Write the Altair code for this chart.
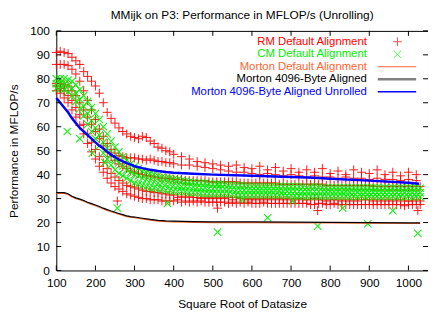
import altair as alt
import pandas as pd

TITLE = "MMijk on P3: Performance in MFLOP/s (Unrolling)"
X_TITLE = "Square Root of Datasize"
Y_TITLE = "Performance in MFLOP/s"
X_TICKS = [100, 200, 300, 400, 500, 600, 700, 800, 900, 1000]
Y_TICKS = [0, 10, 20, 30, 40, 50, 60, 70, 80, 90, 100]
LEGEND = ["RM Default Alignment", "CM Default Alignment", "Morton Default Alignment",
          "Morton 4096-Byte Aligned", "Morton 4096-Byte Aligned Unrolled"]

# sampled x positions for scatter bands
X_GRID = [100, 110, 120, 130, 140, 150, 160, 170, 180, 190, 200, 210, 220, 230, 240,
          250, 260, 270, 280, 290, 300, 310, 320, 330, 340, 350, 360, 370, 380, 390,
          400, 420, 440, 460, 480, 500, 520, 540, 560, 580, 600, 620, 640, 660, 680,
          700, 720, 740, 760, 780, 800, 820, 840, 860, 880, 900, 920, 940, 960, 980,
          1000, 1020]
X_GRID_B = [410, 430, 450, 470, 490, 510, 530, 550, 570, 590, 610, 630, 650, 670, 690,
            710, 730, 750, 770, 790, 810, 830, 850, 870, 890, 910, 930, 950, 970, 990,
            1010, 1030]

# RM Default Alignment (several bands of points)
RM_TOP = [91, 91.5, 91, 90.5, 89, 87.5, 86, 83, 81, 79, 77, 74, 70, 66, 63.5, 61.5, 59.5, 58, 57, 56,
          55.5, 55, 56, 55.5, 54, 53, 51.5, 51, 50, 49.5,
          48.5, 47.5, 46.5, 45.5, 45, 44.5, 44, 43.5, 44, 43, 42.5, 43.5, 42, 43, 41.5, 42.5, 41, 42, 41, 42.5,
          40.5, 41.5, 40, 42, 41, 40.5, 42, 40, 41, 39.5, 41, 40]
RM_2 = [86, 86, 86, 85.5, 84, 82, 79, 75, 71, 67, 63, 59, 56, 53, 50.5, 49, 48, 47.5, 47, 47,
        47, 46.5, 46.5, 46, 46.5, 46, 45.5, 45.5, 45, 45,
        44.5, 44, 44, 43.5, 43, 42.5, 42, 41.5, 41, 41, 40.5, 40, 40.5, 40, 39.5, 40, 39.5, 39, 39.5, 39,
        39, 38.5, 39, 38.5, 38.5, 38, 38.5, 38, 38, 37.5, 38, 37.5]
RM_3 = [78, 78, 77.5, 77, 75, 73, 70, 67, 64, 61, 58, 55, 52, 49.5, 47.5, 46, 44.5, 43.5, 42.5, 41.5,
        41, 40.5, 40, 39.5, 39.5, 39, 39, 38.5, 38.5, 38.5,
        38, 38, 37.5, 37.5, 37.5, 37, 37, 37, 37, 36.5, 36.5, 36.5, 36.5, 36.5, 36, 36, 36, 36, 36, 36,
        35.5, 35.5, 35.5, 35.5, 35.5, 35.5, 35, 35, 35, 35, 35, 35]
RM_4 = [77, 76, 75, 73, 71, 68, 65, 61, 57, 53.5, 50.5, 47.5, 45, 42.5, 40.5, 39, 37.5, 36.5, 35.5, 35,
        34.5, 34, 33.5, 33, 33, 32.5, 32.5, 32, 32, 31.5,
        31.5, 31, 31, 30.5, 30.5, 30.5, 30.5, 30.5, 30.5, 30, 30, 30, 30, 30, 30, 30, 30, 29.5, 30, 29.5,
        29.5, 29.5, 29.5, 29.5, 29.5, 29.5, 29.5, 29.5, 29.5, 29.5, 29, 29.5]
RM_5 = [75, 74, 72, 70, 67, 64, 60.5, 57, 53, 49.5, 46.5, 43.5, 41, 38.5, 36.5, 35, 34, 33, 32, 31.5,
        31, 30.5, 30, 30, 29.5, 29.5, 29.5, 29, 29, 29,
        29, 28.5, 28.5, 28.5, 28.5, 28.5, 28.5, 28, 28, 28, 28, 28, 28, 28, 28, 28, 28, 28, 27.5, 28,
        27.5, 27.5, 27.5, 27.5, 27.5, 27.5, 27.5, 27.5, 27.5, 27.5, 27.5, 27.5]
# extra RM points between the grid columns (x >= 410)
RM_3B = [38, 37.5, 37.5, 37.5, 37, 37, 37, 37, 36.5, 36.5, 36.5, 36.5, 36.5, 36, 36, 36,
         36, 36, 36, 35.5, 35.5, 35.5, 35.5, 35.5, 35.5, 35, 35, 35, 35, 35, 35, 35]
RM_4B = [30.5, 30.5, 30.5, 30, 30, 30, 30, 29.5, 30, 29.5, 29.5, 29.5, 29.5, 29.5, 29.5, 29.5,
         29.5, 29.5, 29.5, 29, 29.5, 29, 29, 29, 29.5, 29, 29, 29, 29, 29, 29, 29]
RM_5B = [29.5, 29, 29, 29, 28.5, 28.5, 28.5, 28.5, 28.5, 28.5, 28, 28.5, 28, 28, 28, 28,
         28, 27.5, 28, 27.5, 28, 27.5, 27.5, 27.5, 27.5, 27.5, 27.5, 27.5, 27.5, 27, 27.5, 27.5]
RM_OUT_X = [256, 512, 768, 1024]
RM_OUT_Y = [29, 26, 25, 25]

# CM Default Alignment
CM_1 = [80, 80, 80, 79.5, 79, 77.5, 75.5, 73, 70.5, 68, 65.5, 63, 60, 57, 54, 51.5, 49.5, 47.5, 46, 44.5,
        43.5, 42.5, 41.5, 41, 40.5, 40, 39.5, 39, 38.5, 38.5,
        38, 37.5, 37, 36.5, 36.5, 36, 36, 35.5, 35.5, 35.5, 35, 35, 35, 35, 35, 35, 35, 34.5, 35, 34.5,
        34.5, 34.5, 34.5, 34.5, 34.5, 34.5, 34.5, 34.5, 34.5, 34.5, 34.5, 34.5]
CM_2 = [78, 78, 77.5, 77, 76, 74, 71.5, 68.5, 65.5, 62.5, 59.5, 56.5, 53.5, 51, 48.5, 46.5, 45, 43.5, 42, 41,
        40, 39.5, 38.5, 38, 37.5, 37, 36.5, 36.5, 36, 36,
        35.5, 35, 35, 34.5, 34.5, 34, 34, 34, 33.5, 33.5, 33.5, 33.5, 33.5, 33.5, 33, 33, 33, 33, 33, 33,
        33, 33, 33, 32.5, 32.5, 32.5, 32.5, 32.5, 32.5, 32.5, 32.5, 32.5]
CM_3 = [76, 76, 75.5, 74.5, 73, 70.5, 67.5, 64.5, 61, 58, 55, 52, 49, 46.5, 44, 42, 40.5, 39.5, 38.5, 37.5,
        36.5, 36, 35.5, 35, 34.5, 34.5, 34, 34, 33.5, 33.5,
        33, 33, 32.5, 32.5, 32, 32, 32, 32, 31.5, 31.5, 31.5, 31.5, 31.5, 31.5, 31.5, 31.5, 31, 31, 31, 31,
        31, 31, 31, 31, 31, 31, 31, 31, 31, 31, 31, 31]
CM_1B = [37.8, 37.2, 36.8, 36.5, 36.2, 36, 35.8, 35.5, 35.5, 35.2, 35, 35, 35, 35, 35, 35,
         34.8, 34.8, 34.8, 34.5, 34.5, 34.5, 34.5, 34.5, 34.5, 34.5, 34.3, 34.3, 34.3, 34.3, 34.3, 34.3]
CM_2B = [35.3, 35, 34.8, 34.5, 34.2, 34, 34, 33.8, 33.5, 33.5, 33.5, 33.5, 33.3, 33.3, 33, 33,
         33, 33, 33, 32.8, 32.8, 32.8, 32.6, 32.6, 32.5, 32.5, 32.5, 32.5, 32.4, 32.4, 32.4, 32.4]
CM_3B = [33, 32.8, 32.5, 32.2, 32, 32, 32, 31.8, 31.5, 31.5, 31.5, 31.5, 31.5, 31.5, 31.3, 31.2,
         31, 31, 31, 31, 31, 31, 30.8, 30.8, 30.8, 30.8, 30.8, 30.8, 30.7, 30.7, 30.7, 30.7]
CM_OUT_X = [128, 160, 192, 224, 256, 384, 512, 512, 576, 640, 704, 768, 832, 896, 960, 1024]
CM_OUT_Y = [58, 55, 49, 45, 26, 28, 36, 16, 29.5, 22, 29, 18.5, 26, 19.5, 25, 15.5]

# Morton lines
MORT_X = [100, 110, 120, 130, 140, 150, 160, 170, 180, 190, 200, 210, 220, 230, 240, 250, 260, 270,
          280, 290, 300, 320, 340, 360, 380, 400, 450, 500, 600, 700, 800, 900, 1000, 1030]
MORT_4096 = [32.5, 32.5, 32.5, 32, 31, 30.3, 29.8, 29.2, 28.5, 27.9, 27.3, 26.7, 26, 25.4, 24.8, 24.3,
             23.8, 23.3, 22.8, 22.5, 22.3, 21.8, 21.3, 20.9, 20.7, 20.6, 20.4, 20.3, 20.3, 20.2, 20.1,
             20, 19.9, 19.9]
MORT_DEF = [32.2, 32.2, 32.2, 31.7, 30.7, 30, 29.5, 28.9, 28.2, 27.6, 27, 26.4, 25.7, 25.1, 24.5, 24,
            23.5, 23, 22.5, 22.2, 22, 21.5, 21, 20.6, 20.4, 20.3, 20.1, 20, 20, 19.9, 19.8, 19.7, 19.6,
            19.6]
BLUE_X = [100, 105, 110, 120, 130, 140, 150, 160, 170, 180, 190, 200, 210, 220, 230, 240, 250, 260,
          270, 280, 290, 300, 320, 340, 360, 380, 400, 450, 500, 600, 700, 760, 800, 900, 1000, 1027]
MORT_UNROLL = [72, 71, 70, 68, 66, 63.5, 61.5, 59.5, 58, 56.5, 55, 53.5, 52, 51, 49.5, 48.3, 47.3, 46.3,
               45.5, 44.8, 44.2, 43.5, 42.7, 42, 41.5, 41.1, 40.8, 40.4, 40, 39.5, 39, 38.7, 38.3, 37.5,
               36.6, 36.2]

RED, GREEN, ORANGE, BLACK, BLUE = "#ff0000", "#00ee00", "#ff6633", "#000000", "#0000ff"
FONT = "Liberation Sans"
PLUS = "M-1,0L1,0M0,-1L0,1"
CROSS = "M-1,-1L1,1M-1,1L1,-1"

W, H = 377, 243
xs = alt.Scale(domain=[100, 1050], nice=False, zero=False)
ys = alt.Scale(domain=[0, 100], nice=False, zero=False)

rm_df = pd.DataFrame({"x": X_GRID * 5 + X_GRID_B * 3 + RM_OUT_X,
                      "y": RM_TOP + RM_2 + RM_3 + RM_4 + RM_5 + RM_3B + RM_4B + RM_5B + RM_OUT_Y})
cm_df = pd.DataFrame({"x": X_GRID * 3 + X_GRID_B * 3 + CM_OUT_X,
                      "y": CM_1 + CM_2 + CM_3 + CM_1B + CM_2B + CM_3B + CM_OUT_Y})
m_df = pd.DataFrame({"x": MORT_X, "y": MORT_DEF, "y2": MORT_4096})
b_df = pd.DataFrame({"x": BLUE_X, "y": MORT_UNROLL})

xaxis = alt.Axis(values=X_TICKS, format="d", ticks=False, domain=False, grid=False, labelFontSize=12,
                 labelFont=FONT, labelColor="black", labelPadding=7, title=X_TITLE,
                 titleFont=FONT, titleFontSize=12, titleFontWeight="normal", titlePadding=11,
                 titleColor="black", labelFlush=False)
yaxis = alt.Axis(values=Y_TICKS, format="d", ticks=False, domain=False, grid=False, labelFontSize=12,
                 labelFont=FONT, labelColor="black", labelPadding=7, title=Y_TITLE,
                 titleFont=FONT, titleFontSize=12, titleFontWeight="normal", titlePadding=9,
                 titleColor="black", labelFlush=False)


def X(f):
    return alt.X(f, scale=xs, axis=xaxis)


def Y(f):
    return alt.Y(f, scale=ys, axis=yaxis)


rm = alt.Chart(rm_df).mark_point(shape=PLUS, filled=False, stroke=RED, strokeWidth=1, size=81,
                                 opacity=0.9).encode(x=X("x:Q"), y=Y("y:Q"))
cm = alt.Chart(cm_df).mark_point(shape=CROSS, filled=False, stroke=GREEN, strokeWidth=1.1, size=56,
                                 opacity=0.9).encode(x=X("x:Q"), y=Y("y:Q"))
orange = alt.Chart(m_df).mark_line(color=ORANGE, strokeWidth=1.2).encode(x=X("x:Q"), y=Y("y:Q"))
black = alt.Chart(m_df).mark_line(color=BLACK, strokeWidth=1.2).encode(x=X("x:Q"), y=Y("y2:Q"))
blue = alt.Chart(b_df).mark_line(color=BLUE, strokeWidth=2.5).encode(x=X("x:Q"), y=Y("y:Q"))

TL = 5
xt = pd.DataFrame({"x": X_TICKS})
yt = pd.DataFrame({"y": Y_TICKS})
tick_b = alt.Chart(xt).mark_rule(color="black").encode(
    x=X("x:Q"), y=alt.value(H), y2=alt.value(H - TL))
tick_t = alt.Chart(xt).mark_rule(color="black").encode(
    x=X("x:Q"), y=alt.value(0), y2=alt.value(TL))
tick_l = alt.Chart(yt).mark_rule(color="black").encode(
    y=Y("y:Q"), x=alt.value(0), x2=alt.value(TL))
tick_r = alt.Chart(yt).mark_rule(color="black").encode(
    y=Y("y:Q"), x=alt.value(W - TL), x2=alt.value(W))

# legend (gnuplot style: right-aligned label, sample on the right)
one = alt.Data(values=[{"k": 0}])
LX_TEXT, LX_SYM, LX0, LX1 = 315, 346, 326, 365
ROWS = [11, 23.7, 36.4, 49.1, 61.8]
COLORS = [RED, GREEN, ORANGE, BLACK, BLUE]
legend = []
for label, col, ry in zip(LEGEND, COLORS, ROWS):
    legend.append(alt.Chart(one).mark_text(align="right", baseline="middle", font=FONT, fontSize=11.5,
                                           color=col).encode(
        x=alt.value(LX_TEXT), y=alt.value(ry), text=alt.value(label)))
legend.append(alt.Chart(one).mark_point(shape=PLUS, filled=False, stroke=RED, strokeWidth=1,
                                        size=81).encode(x=alt.value(LX_SYM), y=alt.value(ROWS[0])))
legend.append(alt.Chart(one).mark_point(shape=CROSS, filled=False, stroke=GREEN, strokeWidth=1,
                                        size=56).encode(x=alt.value(LX_SYM), y=alt.value(ROWS[1])))
legend.append(alt.Chart(one).mark_rule(color=ORANGE, strokeWidth=1.2).encode(
    x=alt.value(LX0), x2=alt.value(LX1), y=alt.value(ROWS[2])))
legend.append(alt.Chart(one).mark_rule(color="#808080", strokeWidth=2.5).encode(
    x=alt.value(LX0), x2=alt.value(LX1), y=alt.value(ROWS[3])))
legend.append(alt.Chart(one).mark_rule(color=BLUE, strokeWidth=1.5).encode(
    x=alt.value(LX0), x2=alt.value(LX1), y=alt.value(ROWS[4])))

chart = alt.layer(rm, cm, orange, black, blue, tick_b, tick_t, tick_l, tick_r, *legend).properties(
    width=W, height=H,
    title=alt.TitleParams(TITLE, font=FONT, fontSize=12, fontWeight="normal", color="black",
                          anchor="middle", offset=3),
    padding={"left": 49, "top": 21, "right": 0, "bottom": 46},
    autosize=alt.AutoSizeParams(type="none"),
).configure_view(stroke="black", strokeWidth=1)

chart.save("out.html", embed_options={"renderer": "svg", "actions": False})
